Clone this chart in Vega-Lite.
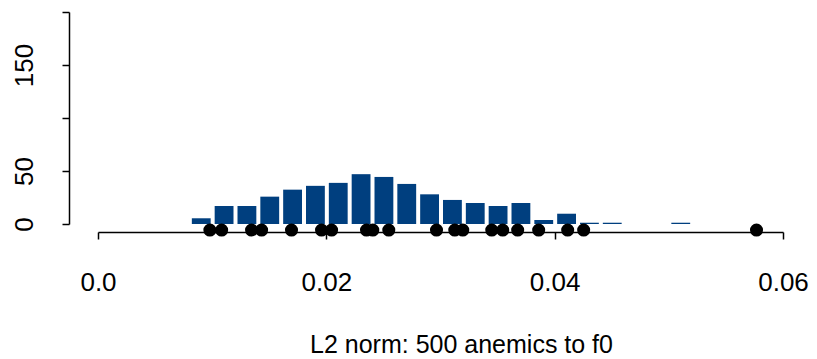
{
  "$schema": "https://vega.github.io/schema/vega-lite/v6.json",
  "width": 685,
  "height": 220,
  "autosize": {"type": "none"},
  "padding": {"left": 98, "top": 12, "right": 34, "bottom": 127},
  "background": "white",
  "config": {
    "view": {"stroke": null},
    "font": "Liberation Sans",
    "axis": {"grid": false, "domainColor": "black", "tickColor": "black", "labelColor": "black", "titleColor": "black", "domainWidth": 1.5, "tickWidth": 1.5, "labelFont": "Liberation Sans", "titleFont": "Liberation Sans", "labelFontWeight": "normal", "titleFontWeight": "normal"}
  },
  "datasets": {
    "bins": [
      {"start": 0.008, "end": 0.010, "count": 5.4},
      {"start": 0.010, "end": 0.012, "count": 17},
      {"start": 0.012, "end": 0.014, "count": 17},
      {"start": 0.014, "end": 0.016, "count": 25.8},
      {"start": 0.016, "end": 0.018, "count": 32.4},
      {"start": 0.018, "end": 0.020, "count": 36},
      {"start": 0.020, "end": 0.022, "count": 38.8},
      {"start": 0.022, "end": 0.024, "count": 47},
      {"start": 0.024, "end": 0.026, "count": 44.4},
      {"start": 0.026, "end": 0.028, "count": 37.8},
      {"start": 0.028, "end": 0.030, "count": 28},
      {"start": 0.030, "end": 0.032, "count": 22.7},
      {"start": 0.032, "end": 0.034, "count": 19.8},
      {"start": 0.034, "end": 0.036, "count": 17},
      {"start": 0.036, "end": 0.038, "count": 19.8},
      {"start": 0.038, "end": 0.040, "count": 3.8},
      {"start": 0.040, "end": 0.042, "count": 9.7},
      {"start": 0.042, "end": 0.044, "count": 1.2},
      {"start": 0.044, "end": 0.046, "count": 1.2},
      {"start": 0.050, "end": 0.052, "count": 1.2}
    ],
    "points": [
      {"norm": 0.0098}, {"norm": 0.01083}, {"norm": 0.01345}, {"norm": 0.01433},
      {"norm": 0.01695}, {"norm": 0.01958}, {"norm": 0.02046}, {"norm": 0.02352},
      {"norm": 0.02407}, {"norm": 0.02547}, {"norm": 0.02965}, {"norm": 0.03125},
      {"norm": 0.03195}, {"norm": 0.03449}, {"norm": 0.03545}, {"norm": 0.03676},
      {"norm": 0.0386}, {"norm": 0.04114}, {"norm": 0.04254}, {"norm": 0.05768}
    ]
  },
  "layer": [
    {
      "data": {"name": "bins"},
      "mark": {"type": "bar", "color": "#003f7f", "binSpacing": 4, "clip": false},
      "encoding": {
        "x": {"field": "start", "type": "quantitative", "bin": "binned",
              "scale": {"domain": [0, 0.06], "nice": false, "zero": false},
              "axis": {"values": [0, 0.02, 0.04, 0.06], "labelExpr": "datum.value == 0 ? '0.0' : format(datum.value, '.2f')",
                       "tickSize": 7, "labelFontSize": 26, "labelPadding": 30, "labelFlush": false,
                       "title": "L2 norm: 500 anemics to f0", "titleFontSize": 25, "titlePadding": 37, "titleX": 363}},
        "x2": {"field": "end"},
        "y": {"field": "count", "type": "quantitative",
              "scale": {"domain": [0, 200], "range": [212, 0], "nice": false, "zero": false},
              "axis": {"values": [0, 50, 100, 150, 200], "offset": 29, "tickSize": 7, "labelFontSize": 26,
                       "labelAngle": -90, "labelAlign": "center", "labelBaseline": "bottom", "labelPadding": 25,
                       "labelExpr": "datum.value == 100 || datum.value == 200 ? '' : datum.label", "title": null}}
      }
    },
    {
      "data": {"name": "points"},
      "mark": {"type": "circle", "color": "black", "opacity": 1, "size": 170, "clip": false},
      "encoding": {
        "x": {"field": "norm", "type": "quantitative"},
        "y": {"datum": -5.7, "type": "quantitative"}
      }
    }
  ]
}
